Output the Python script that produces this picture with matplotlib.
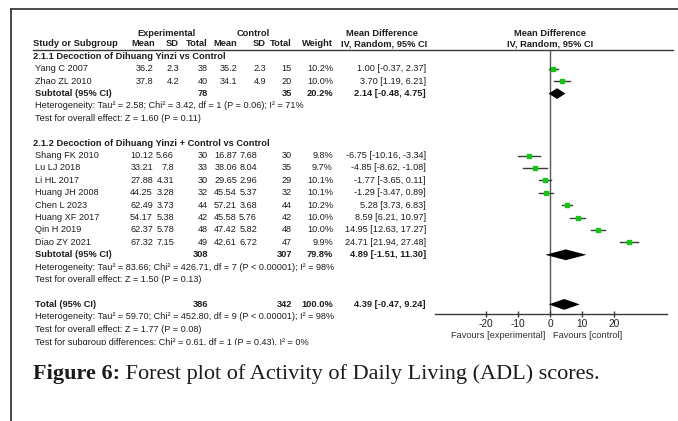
import matplotlib.pyplot as plt
from matplotlib.patches import Polygon
from matplotlib.transforms import Bbox, TransformedBbox

# study level data
studies = ["Yang C 2007", "Zhao ZL 2010",
           "Shang FK 2010", "Lu LJ 2018", "Li HL 2017", "Huang JH 2008",
           "Chen L 2023", "Huang XF 2017", "Qin H 2019", "Diao ZY 2021"]
study_group = [0, 0, 1, 1, 1, 1, 1, 1, 1, 1]
exp_mean = [36.2, 37.8, 10.12, 33.21, 27.88, 44.25, 62.49, 54.17, 62.37, 67.32]
exp_sd = [2.3, 4.2, 5.66, 7.8, 4.31, 3.28, 3.73, 5.38, 5.78, 7.15]
exp_n = [38, 40, 30, 33, 30, 32, 44, 42, 48, 49]
ctl_mean = [35.2, 34.1, 16.87, 38.06, 29.65, 45.54, 57.21, 45.58, 47.42, 42.61]
ctl_sd = [2.3, 4.9, 7.68, 8.04, 2.96, 5.37, 3.68, 5.76, 5.82, 6.72]
ctl_n = [15, 20, 30, 35, 29, 32, 44, 42, 48, 47]
weight = [10.2, 10.0, 9.8, 9.7, 10.1, 10.1, 10.2, 10.0, 10.0, 9.9]
md = [1.00, 3.70, -6.75, -4.85, -1.77, -1.29, 5.28, 8.59, 14.95, 24.71]
md_lo = [-0.37, 1.19, -10.16, -8.62, -3.65, -3.47, 3.73, 6.21, 12.63, 21.94]
md_hi = [2.37, 6.21, -3.34, -1.08, 0.11, 0.89, 6.83, 10.97, 17.27, 27.48]

# subgroup summaries
sub_names = ["2.1.1 Decoction of Dihuang Yinzi vs Control",
             "2.1.2 Decoction of Dihuang Yinzi + Control vs Control"]
sub_exp_n = [78, 308]
sub_ctl_n = [35, 307]
sub_weight = [20.2, 79.8]
sub_md = [2.14, 4.89]
sub_lo = [-0.48, -1.51]
sub_hi = [4.75, 11.30]
sub_het = ["Heterogeneity: Tau\u00b2 = 2.58; Chi\u00b2 = 3.42, df = 1 (P = 0.06); I\u00b2 = 71%",
           "Heterogeneity: Tau\u00b2 = 83.66; Chi\u00b2 = 426.71, df = 7 (P < 0.00001); I\u00b2 = 98%"]
sub_test = ["Test for overall effect: Z = 1.60 (P = 0.11)",
            "Test for overall effect: Z = 1.50 (P = 0.13)"]

# overall
tot_exp_n, tot_ctl_n, tot_weight = 386, 342, 100.0
tot_md, tot_lo, tot_hi = 4.39, -0.47, 9.24
tot_het = "Heterogeneity: Tau\u00b2 = 59.70; Chi\u00b2 = 452.80, df = 9 (P < 0.00001); I\u00b2 = 98%"
tot_test = "Test for overall effect: Z = 1.77 (P = 0.08)"
sub_diff = "Test for subgroup differences: Chi\u00b2 = 0.61, df = 1 (P = 0.43), I\u00b2 = 0%"

x_ticks = [-20, -10, 0, 10, 20]
caption_bold = "Figure 6:"
caption_text = " Forest plot of Activity of Daily Living (ADL) scores."

W, H = 678, 421
FS = 6.55      # regular table text
FSB = 6.7      # bold headers / totals
TXT = "#1e1e1e"
LINE = "#3a3a3a"
GREEN = "#10c810"

plt.rcParams['font.family'] = ['Liberation Sans', 'DejaVu Sans']

fig = plt.figure(figsize=(W / 100, H / 100), dpi=100)
ax = fig.add_axes([0, 0, 1, 1])
ax.set_xlim(0, W)
ax.set_ylim(H, 0)
ax.axis('off')

# forest panel shares the pixel y layout
X0, X1 = 435, 667
fp = fig.add_axes([X0 / W, 0, (X1 - X0) / W, 1])
fp.set_xlim(-36, 36.5)
fp.set_ylim(H, 0)
fp.patch.set_alpha(0)
for s in ['top', 'left', 'right']:
    fp.spines[s].set_visible(False)
AXIS_Y = 314
fp.spines['bottom'].set_position(('data', AXIS_Y))
fp.spines['bottom'].set_color(LINE)
fp.spines['bottom'].set_linewidth(1.0)
fp.set_yticks([])
fp.set_xticks(x_ticks)
fp.set_xticklabels([str(t) for t in x_ticks])
fp.tick_params(axis='x', direction='inout', length=5, width=1.0, color=LINE,
               labelsize=FS + 0.7, labelcolor=TXT, pad=1)


def row_y(i):
    return 44 + 12.4 * i


def txt(x, y, s, ha='left', bold=False):
    return ax.text(x, y, s, ha=ha, va='center', fontsize=FSB if bold else FS,
                   color=TXT, fontweight='bold' if bold else 'normal')


def num(v):
    return f"{v:g}"


def ci(m, lo, hi):
    return f"{m:.2f} [{lo:.2f}, {hi:.2f}]"


def diamond(m, lo, hi, y, h=5.4):
    fp.add_patch(Polygon([(lo, y), (m, y - h), (hi, y), (m, y + h)],
                         closed=True, color='black', lw=0))


# frame
ax.plot([11, W], [9, 9], color=LINE, lw=1.3)
ax.plot([11, 11], [9, H], color=LINE, lw=1.3)

# headers
hy0, hy1 = 33, row_y(0)
txt(166, hy0, "Experimental", ha='center', bold=True)
txt(253, hy0, "Control", ha='center', bold=True)
txt(382, hy0, "Mean Difference", ha='center', bold=True)
txt(550, hy0, "Mean Difference", ha='center', bold=True)
txt(33, hy1, "Study or Subgroup", bold=True)
for x, s in [(155, "Mean"), (179, "SD"), (208, "Total"), (237, "Mean"),
             (266, "SD"), (292, "Total"), (333, "Weight")]:
    txt(x, hy1, s, ha='right', bold=True)
txt(384, hy1, "IV, Random, 95% CI", ha='center', bold=True)
txt(550, hy1, "IV, Random, 95% CI", ha='center', bold=True)
ax.plot([33, 673], [50, 50], color=LINE, lw=1.0)

# zero line
fp.plot([0, 0], [50, AXIS_Y], color="#555555", lw=1.0, zorder=1)

exp_sd_x = [179, 174]
ctl_sd_x = [266, 257]
group_start = [1, 8]

for g in range(2):
    r = group_start[g]
    txt(33, row_y(r), sub_names[g], bold=True)
    idx = [k for k in range(len(studies)) if study_group[k] == g]
    for j, k in enumerate(idx):
        y = row_y(r + 1 + j)
        txt(35, y, studies[k])
        txt(153, y, num(exp_mean[k]), ha='right')
        txt(exp_sd_x[g], y, num(exp_sd[k]), ha='right')
        txt(208, y, str(exp_n[k]), ha='right')
        txt(237, y, num(ctl_mean[k]), ha='right')
        txt(ctl_sd_x[g], y, num(ctl_sd[k]), ha='right')
        txt(292, y, str(ctl_n[k]), ha='right')
        txt(333, y, f"{weight[k]:.1f}%", ha='right')
        txt(426, y, ci(md[k], md_lo[k], md_hi[k]), ha='right')
        fp.plot([md_lo[k], md_hi[k]], [y, y], color=LINE, lw=1.0, zorder=2)
        fp.plot(md[k], y, marker='s', ms=3.0, color=GREEN, mec=GREEN, zorder=3)
    ys = row_y(r + 1 + len(idx))
    txt(35, ys, "Subtotal (95% CI)", bold=True)
    txt(208, ys, str(sub_exp_n[g]), ha='right', bold=True)
    txt(292, ys, str(sub_ctl_n[g]), ha='right', bold=True)
    txt(333, ys, f"{sub_weight[g]:.1f}%", ha='right', bold=True)
    txt(426, ys, ci(sub_md[g], sub_lo[g], sub_hi[g]), ha='right', bold=True)
    diamond(sub_md[g], sub_lo[g], sub_hi[g], ys)
    txt(35, row_y(r + 2 + len(idx)), sub_het[g])
    txt(35, row_y(r + 3 + len(idx)), sub_test[g])

# overall
yt = row_y(21)
txt(35, yt, "Total (95% CI)", bold=True)
txt(208, yt, str(tot_exp_n), ha='right', bold=True)
txt(292, yt, str(tot_ctl_n), ha='right', bold=True)
txt(333, yt, f"{tot_weight:.1f}%", ha='right', bold=True)
txt(426, yt, ci(tot_md, tot_lo, tot_hi), ha='right', bold=True)
diamond(tot_md, tot_lo, tot_hi, yt)
txt(35, row_y(22), tot_het)
txt(35, row_y(23), tot_test)
# plot image is cut off part way through the last line
last = txt(35, row_y(24) + 0.8, sub_diff)
last.set_clip_box(TransformedBbox(Bbox([[0, 0], [W, 344.5]]), ax.transData))
last.set_clip_on(True)

ax.text(545, 335, "Favours [experimental]", ha='right', va='center',
        fontsize=FS + 0.1, color="#333333")
ax.text(553, 335, "Favours [control]", ha='left', va='center',
        fontsize=FS + 0.1, color="#333333")

# caption
cap = ax.text(33, 374, caption_bold, ha='left', va='center', fontsize=16.0,
              fontweight='bold', family='Liberation Serif', color="#1a1a1a")
fig.canvas.draw()
bb = cap.get_window_extent(fig.canvas.get_renderer())
x_end = ax.transData.inverted().transform((bb.x1, bb.y0))[0]
ax.text(x_end, 374, caption_text, ha='left', va='center', fontsize=16.0,
        family='Liberation Serif', color="#1a1a1a")

fig.savefig("out.png", dpi=100)
